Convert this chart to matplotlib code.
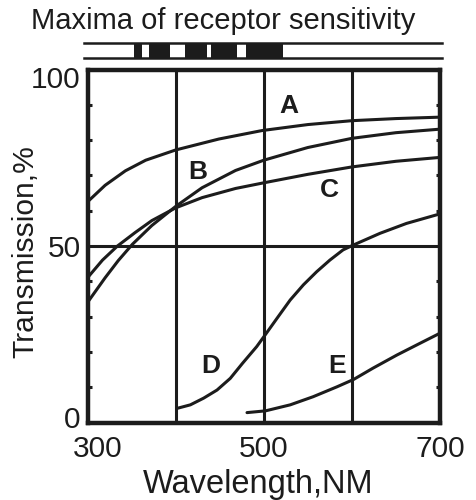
import matplotlib
matplotlib.use('Agg')
import matplotlib.pyplot as plt
from matplotlib.transforms import ScaledTranslation

plt.rcParams['font.family'] = ['Liberation Sans', 'DejaVu Sans']

# ---- data ----
wl_A = [300, 320, 343, 366, 400, 449, 498, 550, 600, 650, 700]
A = [62.5, 67.2, 71.3, 74.3, 77.2, 80.3, 82.7, 84.4, 85.5, 86.1, 86.5]
wl_B = [300, 320, 335, 351, 373, 400, 430, 468, 500, 550, 600, 650, 700]
B = [34.0, 41.0, 45.9, 50.5, 55.8, 61.2, 66.5, 71.4, 74.3, 77.9, 80.5, 82.1, 83.1]
wl_C = [300, 317, 334, 354, 373, 400, 430, 468, 500, 550, 600, 650, 700]
C = [41.0, 46.0, 50.0, 53.8, 57.2, 60.8, 63.7, 66.3, 67.9, 70.3, 72.4, 74.0, 75.1]
wl_D = [401.6, 416.7, 431.8, 447, 462, 476, 492, 503, 515, 530, 545, 560, 575,
        590, 601, 632, 662, 700]
D = [4.0, 5.0, 6.9, 9.2, 12.5, 16.8, 21.5, 25.3, 29.5, 34.7, 39.0, 42.7, 46.0,
     48.9, 50.2, 53.6, 56.4, 59.1]
wl_E = [481, 502, 530, 556, 583, 602, 624, 651, 677, 700]
E = [2.8, 3.3, 5.0, 7.3, 10.1, 12.2, 15.4, 19.1, 22.4, 25.3]

curve_labels = ['A', 'B', 'C', 'D', 'E']
label_x = [528.5, 425, 575, 440, 583.6]
label_y = [89.6, 71.0, 65.9, 15.9, 15.9]

grid_x = [400, 500, 600]
grid_y = [50]

x_ticks = [300, 500, 700]
y_ticks = [0, 50, 100]
y_minor = [10, 20, 30, 40, 60, 70, 80, 90]

# receptor sensitivity maxima bands (start, end) in nm
band_start = [352.5, 369.5, 411.0, 440.2, 480.2]
band_end = [362.0, 394.0, 435.6, 469.6, 522.4]

title = 'Maxima of receptor sensitivity'
xlabel = 'Wavelength,NM'
ylabel = 'Transmission,%'

# ---- drawing ----
ink = '#1c1c1c'
W, H = 476, 500
fig = plt.figure(figsize=(W / 100, H / 100), dpi=100)
fig.patch.set_facecolor('white')

left_px, right_px, top_px, bot_px = 87.5, 440, 69.5, 422.5
ax = fig.add_axes([left_px / W, 1 - bot_px / H, (right_px - left_px) / W, (bot_px - top_px) / H])
ax.set_xlim(300, 700)
ax.set_ylim(0, 100)

for gx in grid_x:
    ax.axvline(gx, color=ink, lw=2.2, zorder=1)
for gy in grid_y:
    ax.axhline(gy, color=ink, lw=2.2, zorder=1)

for wl, vals in [(wl_A, A), (wl_B, B), (wl_C, C), (wl_D, D), (wl_E, E)]:
    ax.plot(wl, vals, color=ink, lw=2.2, solid_capstyle='round', solid_joinstyle='round', zorder=2)

for lab, lx, ly in zip(curve_labels, label_x, label_y):
    ax.text(lx, ly, lab, ha='center', va='center', fontsize=19, fontweight='bold', color=ink, zorder=3)

for s in ax.spines.values():
    s.set_linewidth(3.2)
    s.set_color(ink)

ax.set_xticks(x_ticks)
ax.set_xticklabels([str(v) for v in x_ticks])
ax.set_yticks(y_ticks)
ax.set_yticklabels([str(v) for v in y_ticks])
ax.set_yticks(y_minor, minor=True)
ax.tick_params(axis='both', which='major', length=0, labelsize=21.5, colors=ink)
ax.tick_params(axis='x', which='major', pad=9)
ax.tick_params(axis='y', which='major', pad=5)
ax.tick_params(axis='y', which='minor', direction='in', length=3, width=2.2,
               left=True, right=True, color=ink)

# nudge a few tick labels like in the reference
xl = ax.get_xticklabels()
xl[0].set_transform(xl[0].get_transform() + ScaledTranslation(0.10, 0, fig.dpi_scale_trans))
yl = ax.get_yticklabels()
yl[0].set_transform(yl[0].get_transform() + ScaledTranslation(0, 0.05, fig.dpi_scale_trans))
yl[2].set_transform(yl[2].get_transform() + ScaledTranslation(0, -0.07, fig.dpi_scale_trans))

ax.set_xlabel(xlabel, fontsize=23.5, color=ink)
ax.xaxis.label.set_va('baseline')
ax.xaxis.set_label_coords((258 - left_px) / (right_px - left_px), (bot_px - 492.7) / (bot_px - top_px))

ax.set_ylabel(ylabel, fontsize=21.6, color=ink)
ax.yaxis.label.set_va('baseline')
ax.yaxis.label.set_ha('center')
ax.yaxis.set_label_coords((33 - left_px) / (right_px - left_px), (bot_px - 251.5) / (bot_px - top_px))

# top strip with receptor maxima
sax = fig.add_axes([left_px / W, 1 - 60 / H, (right_px - left_px) / W, 20 / H])
sax.set_xlim(300, 700)
sax.set_ylim(0, 1)
sax.axis('off')
sax.plot([295.5, 702.3], [0.85, 0.85], color=ink, lw=1.8, clip_on=False)
sax.plot([295.5, 702.3], [0.10, 0.10], color=ink, lw=1.8, clip_on=False)
sax.broken_barh([(s, e - s) for s, e in zip(band_start, band_end)], (0.12, 0.71),
                facecolors=ink, edgecolors='none')

fig.text(223 / W, 1 - 29.3 / H, title, ha='center', va='baseline', fontsize=21, color=ink)

fig.savefig('out.png', dpi=100, facecolor='white')
